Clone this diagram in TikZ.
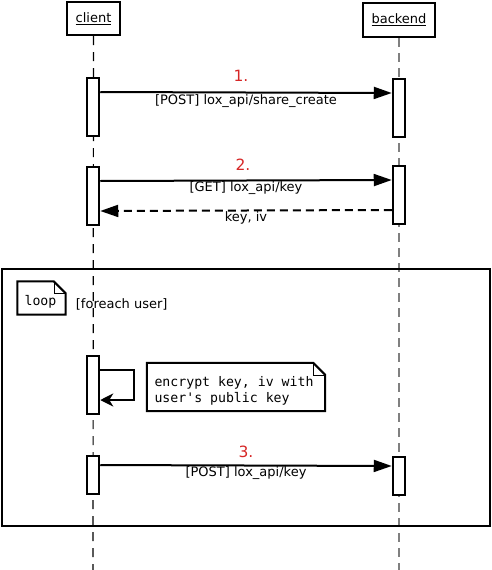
\documentclass[tikz,border=0pt]{standalone}
\usepackage{fontspec}
\setmainfont{DejaVu Sans}
\setmonofont{DejaVu Sans Mono}
\usetikzlibrary{arrows.meta,positioning}

\definecolor{stepred}{RGB}{214,38,38}

\begin{document}
\begin{tikzpicture}[x=1pt,y=-1pt,
  object/.style={draw, line width=2pt, minimum height=33pt, inner sep=0pt,
    font=\fontsize{13}{15}\selectfont},
  act/.style={draw, fill=white, line width=2pt, minimum width=12.5pt, inner sep=0pt},
  msg/.style={-{Triangle[length=18pt,width=12pt]}, line width=2pt},
  reply/.style={msg, dash pattern=on 8pt off 5pt},
  selfmsg/.style={-{Stealth[length=13pt,width=13pt,inset=4pt]}, line width=2pt},
  msglabel/.style={inner sep=0pt, font=\fontsize{13}{15}\selectfont},
  stepnum/.style={inner sep=0pt, text=stepred, font=\fontsize{15.5}{18}\selectfont},
  notepen/.style={line width=2pt},
  notetext/.style={inner sep=0pt, font=\ttfamily\fontsize{13.2}{16}\selectfont}]

  \useasboundingbox (0,0) rectangle (492,570);

  % --- Objects and lifelines ---
  \node[object, minimum width=53pt] (client) at (93.5,18.5) {\underline{client}};
  \node[object, minimum width=72pt, minimum height=34pt] (backend) at (399,20) {\underline{backend}};
  \coordinate (clientend) at (93,570);
  \coordinate (backendend) at (399,570);

  \draw[line width=1.2pt, dash pattern=on 9pt off 7pt] (client.south) -- (clientend);
  \draw[line width=2.5pt, black!50, dash pattern=on 9pt off 6pt] (backend.south) -- (backendend);

  % --- Loop frame ---
  \node[draw, line width=2pt, minimum width=488pt, minimum height=257pt] (loopframe) at (246,397.5) {};
  \node[notetext, minimum width=48pt, minimum height=33pt] (looptab) at (41.5,298) {};
  \node[notetext] (looplabel) at ([xshift=-1pt,yshift=-4pt]looptab.center) {loop};
  \draw[notepen] (looptab.north west) -- ([xshift=-12pt]looptab.north east)
    -- ([yshift=-12pt]looptab.north east) -- (looptab.south east) -- (looptab.south west) -- cycle;
  \draw[thin] ([xshift=-12pt]looptab.north east) |- ([yshift=-12pt]looptab.north east);
  \node[msglabel, right=10pt of looptab, yshift=-6pt] (guard) {[foreach user]};

  % --- Activation boxes ---
  \node[act, minimum height=58pt] (c1) at (93,107) {};
  \node[act, minimum height=58pt] (b1) at (399,108) {};
  \node[act, minimum height=58pt] (c2) at (93,196) {};
  \node[act, minimum height=58pt] (b2) at (399,195) {};
  \node[act, minimum height=58pt] (c3) at (93,385) {};
  \node[act, minimum height=38pt] (c4) at (93,475) {};
  \node[act, minimum height=38pt] (b4) at (399,476) {};

  % --- Messages ---
  \draw[msg] ([yshift=15pt]c1.east) --
    node[stepnum, above=10pt, xshift=-5pt] (n1) {1.}
    node[msglabel, below=1pt] (m1) {[POST] lox\_api/share\_create}
    ([yshift=15pt]b1.west);

  \draw[msg] ([yshift=15pt]c2.east) --
    node[stepnum, above=9pt, xshift=-3pt] (n2) {2.}
    node[msglabel, below=0pt] (m2) {[GET] lox\_api/key}
    ([yshift=15pt]b2.west);

  \draw[reply] ([yshift=-15pt]b2.west) --
    node[msglabel, below=0pt] (m3) {key, iv}
    ([yshift=-15pt]c2.east);

  % --- Self message and note ---
  \draw[selfmsg] ([yshift=15pt]c3.east) -- ++(34,0) |- ([yshift=-15pt]c3.east);

  \node[minimum width=178pt, minimum height=48pt, inner sep=0pt] (encnote) at (236,387) {};
  \draw[notepen] (encnote.north west) -- ([xshift=-12pt]encnote.north east)
    -- ([yshift=-12pt]encnote.north east) -- (encnote.south east) -- (encnote.south west) -- cycle;
  \draw[thin] ([xshift=-12pt]encnote.north east) |- ([yshift=-12pt]encnote.north east);
  \node[notetext, align=left] (enctext) at ([xshift=-2pt,yshift=-4pt]encnote.center)
    {encrypt key, iv with\\user's public key};

  \draw[msg] ([yshift=10pt]c4.east) --
    node[stepnum, above=7pt] (n3) {3.}
    node[msglabel, below=0pt] (m4) {[POST] lox\_api/key}
    ([yshift=10pt]b4.west);

\end{tikzpicture}
\end{document}
